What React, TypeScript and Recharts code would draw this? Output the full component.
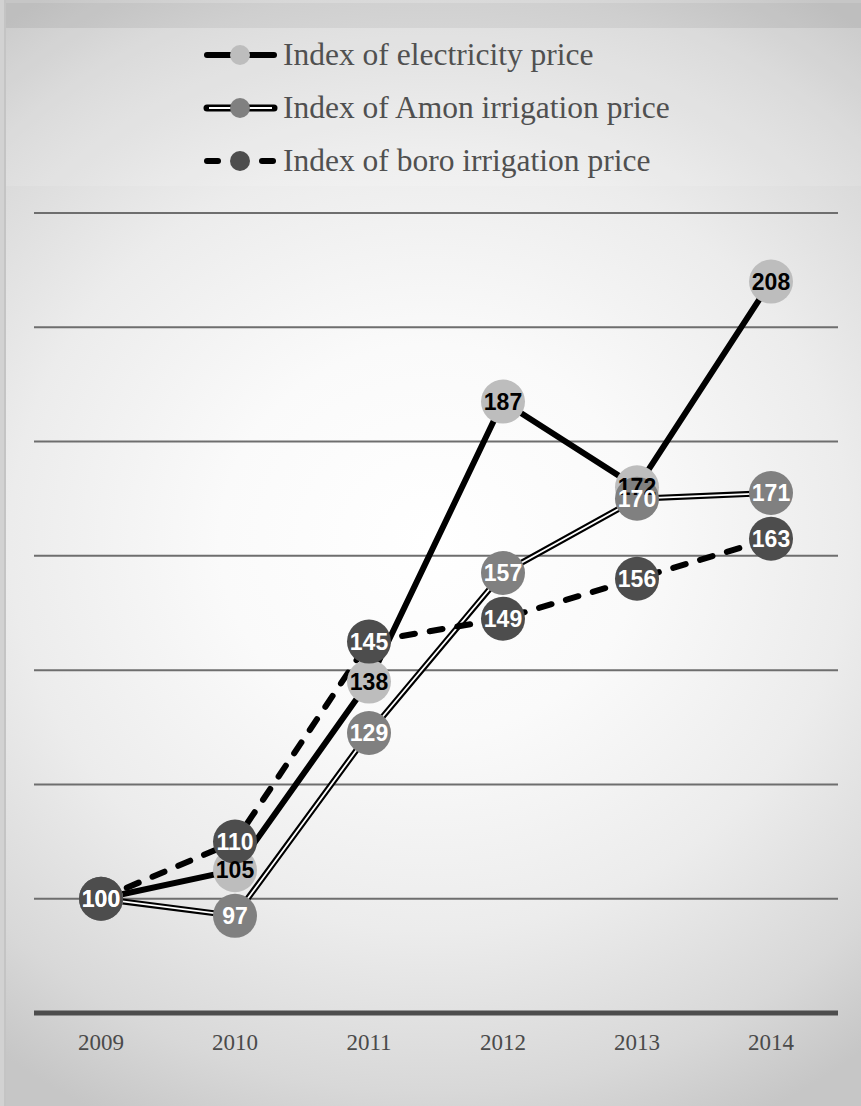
import React from 'react';
import { LineChart, Line, XAxis, YAxis, CartesianGrid, Legend, LabelList } from 'recharts';

const years = ['2009', '2010', '2011', '2012', '2013', '2014'];
const electricity = [100, 105, 138, 187, 172, 208];
const amon = [100, 97, 129, 157, 170, 171];
const boro = [100, 110, 145, 149, 156, 163];
const yTicks = [80, 100, 120, 140, 160, 180, 200, 220];
const legendLabels = [
  'Index of electricity price',
  'Index of Amon irrigation price',
  'Index of boro irrigation price',
];

const data = years.map((year, i) => ({
  year,
  electricity: electricity[i],
  amon: amon[i],
  boro: boro[i],
}));

const ELEC_DOT = '#bdbdbd';
const AMON_DOT = '#808080';
const BORO_DOT = '#4d4d4d';

const makeLabel = (color: string) => (props: any) => {
  const { x, y, value } = props;
  return (
    <text
      x={x}
      y={y}
      textAnchor="middle"
      dominantBaseline="central"
      fill={color}
      fontFamily="'Liberation Sans', Arial, sans-serif"
      fontWeight="bold"
      fontSize={23}
    >
      {value}
    </text>
  );
};

const LegendIcon = ({ kind }: { kind: number }) => {
  const dotFill = kind === 0 ? ELEC_DOT : kind === 1 ? AMON_DOT : BORO_DOT;
  return (
    <svg width={76} height={24} style={{ display: 'block' }}>
      {kind === 0 && (
        <line x1={5} y1={12} x2={72} y2={12} stroke="#000" strokeWidth={6} strokeLinecap="round" />
      )}
      {kind === 1 && (
        <>
          <line x1={5} y1={12} x2={72} y2={12} stroke="#000" strokeWidth={7} strokeLinecap="round" />
          <line x1={7} y1={12} x2={70} y2={12} stroke="#fff" strokeWidth={2} />
        </>
      )}
      {kind === 2 && (
        <>
          <line x1={5} y1={12} x2={16} y2={12} stroke="#000" strokeWidth={6} strokeLinecap="round" />
          <line x1={60} y1={12} x2={71} y2={12} stroke="#000" strokeWidth={6} strokeLinecap="round" />
        </>
      )}
      <circle cx={38} cy={12} r={10} fill={dotFill} />
    </svg>
  );
};

const renderLegend = () => (
  <div style={{ paddingLeft: 202, paddingTop: 0 }}>
    {legendLabels.map((label, i) => (
      <div
        key={label}
        style={{ display: 'flex', alignItems: 'center', height: 53 }}
      >
        <LegendIcon kind={i} />
        <span
          style={{
            fontFamily: "'Liberation Serif', 'Times New Roman', serif",
            fontSize: 31.5,
            color: '#505050',
            marginLeft: 5,
            lineHeight: '32px',
            whiteSpace: 'nowrap',
          }}
        >
          {label}
        </span>
      </div>
    ))}
  </div>
);

export default function App() {
  return (
    <div
      style={{
        position: 'absolute',
        left: 0,
        top: 0,
        width: 861,
        height: 1106,
        overflow: 'hidden',
        background:
          'radial-gradient(ellipse 700px 650px at 430px 540px, #ffffff 0%, #fafafa 30%, #ececec 60%, #d8d8d8 85%, #c6c6c6 100%)',
      }}
    >
      <div
        style={{
          position: 'absolute',
          left: 0,
          top: 3,
          width: 861,
          height: 25,
          background: 'rgba(0,0,0,0.04)',
        }}
      />
      <div
        style={{
          position: 'absolute',
          left: 6,
          top: 28,
          width: 855,
          height: 158,
          background: 'rgba(255,255,255,0.12)',
        }}
      />
      <div
        style={{
          position: 'absolute',
          left: 0,
          top: 0,
          width: 4,
          height: 1106,
          background: '#d2d2d2',
          borderRight: '2px solid #c4c4c4',
        }}
      />
      <div style={{ position: 'absolute', left: 0, top: 0 }}>
        <LineChart
          width={861}
          height={1106}
          data={data}
          margin={{ top: 213, right: 23, bottom: 63, left: 34 }}
        >
          <CartesianGrid
            vertical={false}
            horizontalValues={yTicks}
            stroke="#6e6e6e"
            strokeWidth={2}
          />
          <YAxis domain={[80, 220]} ticks={yTicks} hide />
          <XAxis
            dataKey="year"
            scale="band"
            height={30}
            axisLine={{ stroke: '#4d4d4d', strokeWidth: 5 }}
            tickLine={false}
            tickMargin={15}
            tick={{
              fill: '#4a4a4a',
              fontSize: 23,
              fontFamily: "'Liberation Serif', 'Times New Roman', serif",
            }}
          />
          <Legend
            layout="horizontal"
            align="center"
            verticalAlign="middle"
            content={renderLegend}
            wrapperStyle={{ top: 28, left: 0, width: 861, height: 158 }}
          />
          <Line
            dataKey="electricity"
            stroke="#000"
            strokeWidth={6}
            isAnimationActive={false}
            dot={{ r: 22, fill: ELEC_DOT, stroke: 'none' }}
            activeDot={false}
          >
            <LabelList dataKey="electricity" content={makeLabel('#000000')} />
          </Line>
          <Line
            dataKey="amon"
            stroke="#000"
            strokeWidth={6}
            isAnimationActive={false}
            dot={false}
            activeDot={false}
            legendType="none"
          />
          <Line
            dataKey="amon"
            stroke="#ffffff"
            strokeWidth={1.8}
            isAnimationActive={false}
            dot={{ r: 22, fill: AMON_DOT, stroke: 'none' }}
            activeDot={false}
          >
            <LabelList dataKey="amon" content={makeLabel('#ffffff')} />
          </Line>
          <Line
            dataKey="boro"
            stroke="#000"
            strokeWidth={6}
            strokeDasharray="13 15"
            strokeLinecap="round"
            isAnimationActive={false}
            dot={{ r: 22, fill: BORO_DOT, stroke: 'none', strokeDasharray: '0' }}
            activeDot={false}
          >
            <LabelList dataKey="boro" content={makeLabel('#ffffff')} />
          </Line>
        </LineChart>
      </div>
    </div>
  );
}
